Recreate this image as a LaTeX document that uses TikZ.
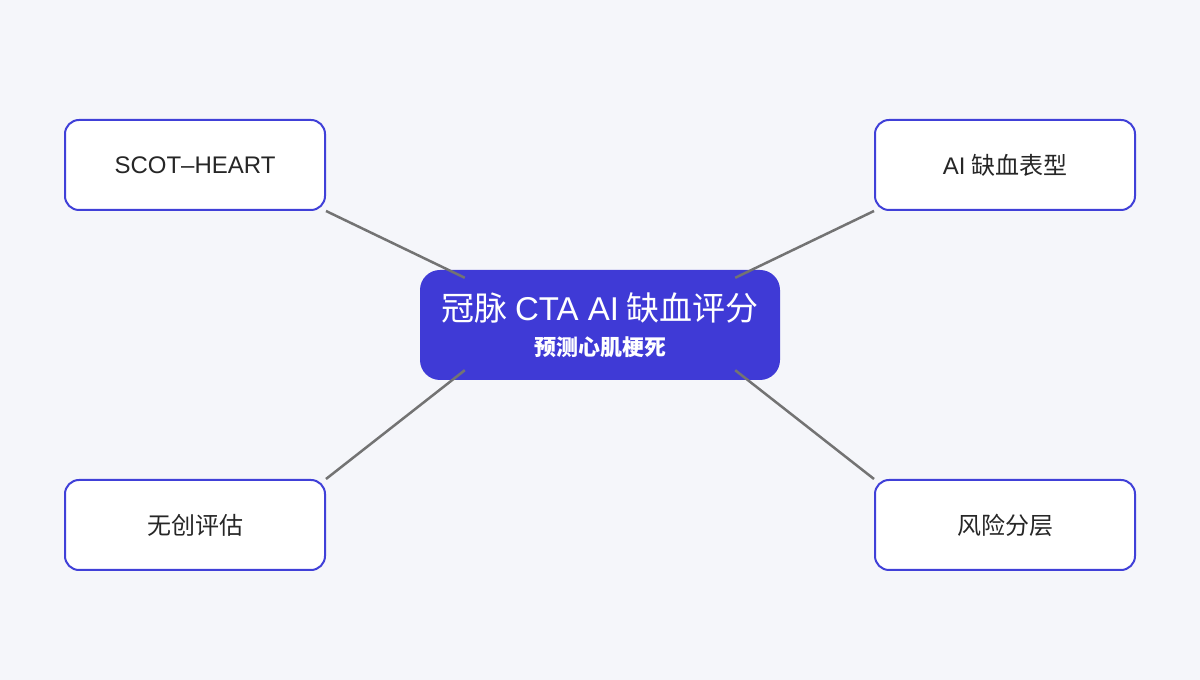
\documentclass[tikz,border=0pt]{standalone}
\usepackage{fontspec}
\setmainfont{Noto Sans CJK SC}
\newfontfamily\latinf{Liberation Sans}
\begin{document}
\begin{tikzpicture}[x=1pt,y=1pt,
  leaf/.style={draw=boxblue,line width=2pt,fill=white,rounded corners=14pt,minimum width=260pt,minimum height=90pt,font=\fontsize{24}{28}\selectfont,text=black!85},
  conn/.style={draw=black!55,line width=2.5pt}]
\definecolor{boxblue}{HTML}{4040D8}
\definecolor{hub}{HTML}{3F3AD6}
\definecolor{bg}{HTML}{F5F6FA}
\fill[bg] (0,0) rectangle (1200,680);
\useasboundingbox (0,0) rectangle (1200,680);
\node[fill=hub,rounded corners=20pt,minimum width=360pt,minimum height=110pt,align=center,text=white] (c) at (600,355)
 {{\fontsize{33}{38}\selectfont 冠脉 {\latinf CTA AI} 缺血评分}\\[12pt]{\fontsize{22}{24}\selectfont\bfseries 预测心肌梗死}};
\node[leaf] (a) at (195,515) {\latinf SCOT–HEART};
\node[leaf] (b) at (1005,515) {{\latinf AI} 缺血表型};
\node[leaf] (d) at (195,155) {无创评估};
\node[leaf] (e) at (1005,155) {风险分层};
\coordinate (c1) at ([xshift=45pt,yshift=-8pt]c.north west);
\coordinate (c2) at ([xshift=-45pt,yshift=-8pt]c.north east);
\coordinate (c3) at ([xshift=45pt,yshift=10pt]c.south west);
\coordinate (c4) at ([xshift=-45pt,yshift=10pt]c.south east);
\draw[conn] (a.south east) -- (c1);
\draw[conn] (b.south west) -- (c2);
\draw[conn] (d.north east) -- (c3);
\draw[conn] (e.north west) -- (c4);
\end{tikzpicture}
\end{document}
